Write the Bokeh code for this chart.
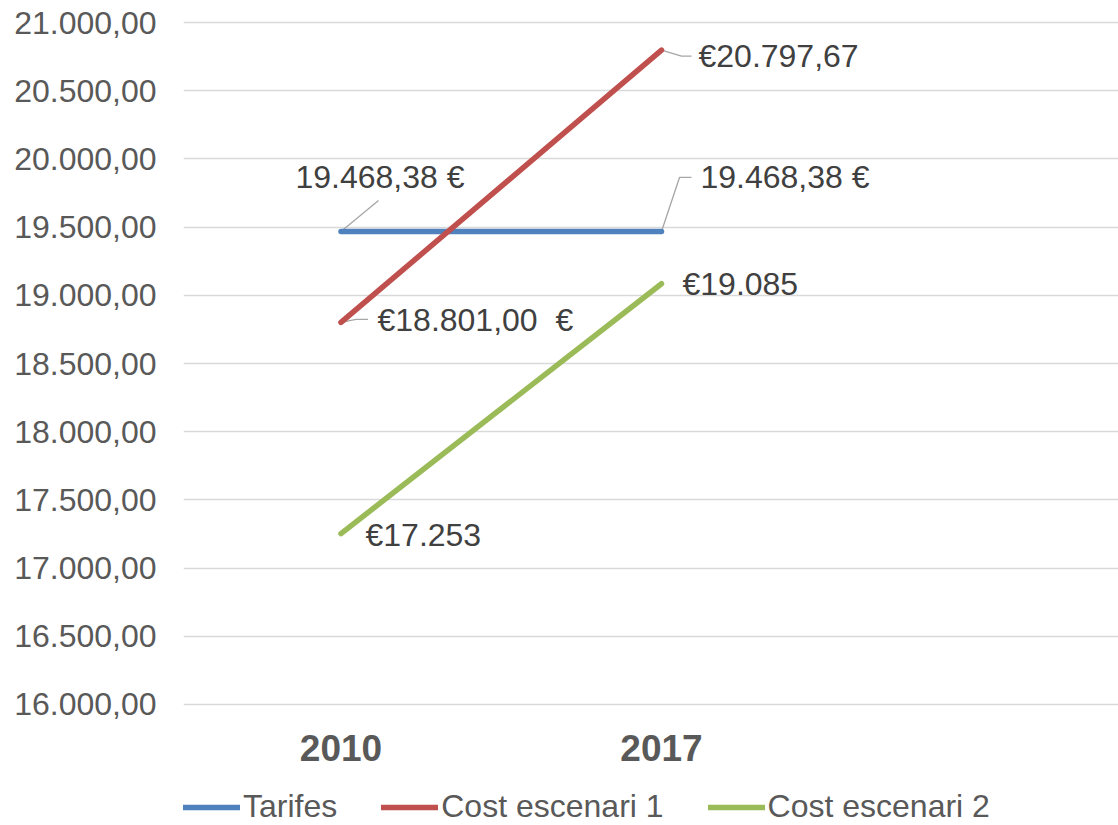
from bokeh.plotting import figure
from bokeh.layouts import column
from bokeh.models import Range1d, FixedTicker, Legend, LegendItem, ColumnDataSource
from bokeh.core.properties import value
from bokeh.embed import file_html
from bokeh.resources import INLINE

# ---- data ----
categories = ["2010", "2017"]
tarifes = [19468.38, 19468.38]
cost_escenari_1 = [18801.00, 20797.67]
cost_escenari_2 = [17253.0, 19085.0]

tarifes_labels = ["19.468,38 €", "19.468,38 €"]
cost1_labels = ["€18.801,00\u00a0 €", "€20.797,67"]
cost2_labels = ["€17.253", "€19.085"]

series_names = ["Tarifes", "Cost escenari 1", "Cost escenari 2"]

y_ticks = [16000, 16500, 17000, 17500, 18000, 18500, 19000, 19500, 20000, 20500, 21000]
y_tick_labels = ["16.000,00", "16.500,00", "17.000,00", "17.500,00", "18.000,00",
                 "18.500,00", "19.000,00", "19.500,00", "20.000,00", "20.500,00", "21.000,00"]

# ---- styling / layout ----
FONT = "Liberation Sans"
COLORS = ["#4f81bd", "#c0504d", "#9bbb59"]
FIG_W, FIG_H = 1118, 787
LEG_H = 38
BL, BR, BT, BB = 183, 0, 20, 81
X0, X1 = -0.4914, 2.4259
Y0, Y1 = 15985, 21015
frame_w = FIG_W - BL - BR
frame_h = FIG_H - BT - BB
px_x = frame_w / (X1 - X0)   # pixels per x unit
px_y = frame_h / (Y1 - Y0)   # pixels per y unit

p = figure(width=FIG_W, height=FIG_H, output_backend="svg", toolbar_location=None,
           x_range=Range1d(X0, X1), y_range=Range1d(Y0, Y1),
           min_border_left=BL, min_border_right=BR, min_border_top=BT, min_border_bottom=BB)
p.outline_line_color = None
p.background_fill_color = "white"
p.border_fill_color = "white"

xs = list(range(len(categories)))

# y axis
p.yaxis.ticker = FixedTicker(ticks=y_ticks)
p.yaxis.major_label_overrides = {t: l for t, l in zip(y_ticks, y_tick_labels)}
p.yaxis.axis_line_color = None
p.yaxis.major_tick_line_color = None
p.yaxis.minor_tick_line_color = None
p.yaxis.major_tick_out = 0
p.yaxis.major_label_standoff = 27
p.yaxis.major_label_text_font = FONT
p.yaxis.major_label_text_font_size = "32px"
p.yaxis.major_label_text_color = "#595959"

# x axis
p.xaxis.ticker = FixedTicker(ticks=xs)
p.xaxis.major_label_overrides = {i: c for i, c in zip(xs, categories)}
p.xaxis.axis_line_color = None
p.xaxis.major_tick_line_color = None
p.xaxis.minor_tick_line_color = None
p.xaxis.major_tick_out = 0
p.xaxis.major_label_standoff = 28
p.xaxis.major_label_text_font = FONT
p.xaxis.major_label_text_font_size = "37px"
p.xaxis.major_label_text_font_style = "bold"
p.xaxis.major_label_text_color = "#595959"

p.xgrid.grid_line_color = None
p.ygrid.grid_line_color = "#d9d9d9"
p.ygrid.grid_line_width = 1.3

# leader lines (pixel offsets from the data point)
leaders = [
    (0, 0, [(0, 0), (37.5, -31)]),
    (0, 1, [(0, 0), (18, -54), (30, -54)]),
    (1, 0, [(0, 0), (15, -3), (27, -3)]),
    (1, 1, [(0, 0), (20, 6), (30, 6)]),
]
all_series = [tarifes, cost_escenari_1, cost_escenari_2]
lx, ly = [], []
for s, i, pts in leaders:
    lx.append([xs[i] + dx / px_x for dx, dy in pts])
    ly.append([all_series[s][i] - dy / px_y for dx, dy in pts])
p.multi_line(lx, ly, line_color="#a6a6a6", line_width=1.3)

for s, col in zip(all_series, COLORS):
    p.line(xs, s, line_color=col, line_width=5.5, line_cap="round", line_join="round")

# data labels
label_sets = [tarifes_labels, cost1_labels, cost2_labels]
offsets = [
    [(-45.5, -54), (39, -54)],
    [(36.5, -2.5), (37, 6)],
    [(24.5, 1), (21, 0.5)],
]
for s, labs, offs in zip(all_series, label_sets, offsets):
    src = ColumnDataSource(dict(x=xs, y=s, t=labs,
                                dx=[o[0] for o in offs], dy=[o[1] for o in offs]))
    p.text(x="x", y="y", text="t", x_offset="dx", y_offset="dy", source=src,
           text_font=value(FONT), text_font_size="32px", text_color="#404040",
           text_align="left", text_baseline="alphabetic")

# ---- legend strip below the chart ----
pl = figure(width=FIG_W, height=LEG_H, output_backend="svg", toolbar_location=None,
            x_axis_type=None, y_axis_type=None, x_range=Range1d(0, 1), y_range=Range1d(0, 1),
            min_border_left=BL, min_border_right=0, min_border_top=0, min_border_bottom=0)
pl.outline_line_color = None
pl.xgrid.grid_line_color = None
pl.ygrid.grid_line_color = None
pl.background_fill_color = "white"
pl.border_fill_color = "white"
leg_renderers = []
for s, col in zip(all_series, COLORS):
    # same series (outside this strip's visible range) so that the legend has a glyph to draw
    leg_renderers.append(pl.line(xs, s, line_color=col, line_width=5.5, line_cap="round"))

legend = Legend(items=[LegendItem(label=n, renderers=[r]) for n, r in zip(series_names, leg_renderers)],
                location=(0, 0), orientation="horizontal",
                glyph_width=57, glyph_height=30, label_standoff=3, spacing=44,
                padding=0, margin=0,
                label_text_font=FONT, label_text_font_size="32px", label_text_color="#595959",
                border_line_alpha=0, background_fill_alpha=0)
pl.add_layout(legend, "center")

layout = column(p, pl, spacing=0)
open("out.html", "w").write(file_html(layout, INLINE))
